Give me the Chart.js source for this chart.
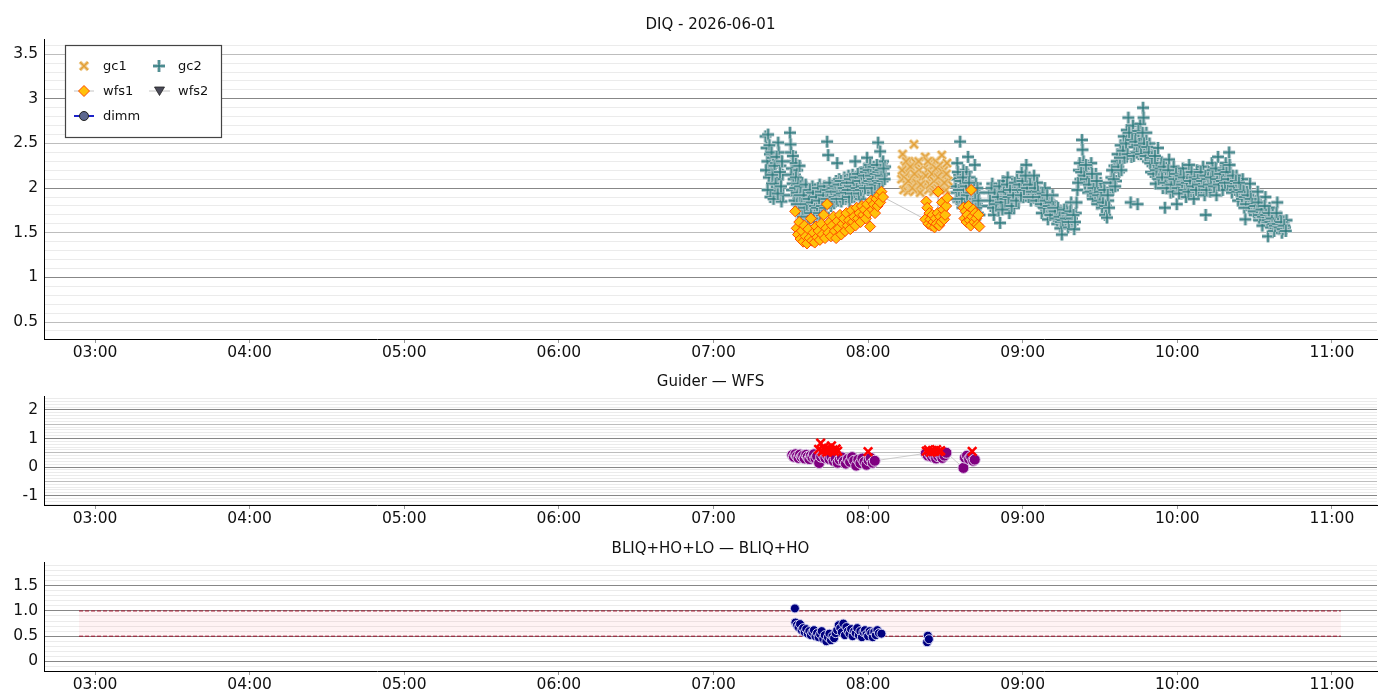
<!DOCTYPE html>
<html>
<head>
<meta charset="utf-8">
<script src="https://cdn.jsdelivr.net/npm/chart.js@4.4.1/dist/chart.umd.min.js"></script>
<style>
html, body { margin: 0; padding: 0; background: #fff; }
body { width: 1400px; height: 700px; position: relative; overflow: hidden; font-family: "DejaVu Sans", sans-serif; }
.box { position: absolute; left: 0; width: 1400px; }
.box canvas { display: block; }
.ttl { position: absolute; left: 44px; width: 1333px; text-align: center; font-size: 15px; line-height: 18px; color: #111; }
</style>
</head>
<body>
<div class="box" style="top:0px;height:365px"><canvas id="diq" width="1400" height="365"></canvas></div>
<div class="box" style="top:365px;height:165px"><canvas id="gw" width="1400" height="165"></canvas></div>
<div class="box" style="top:530px;height:170px"><canvas id="bliq" width="1400" height="170"></canvas></div>
<div class="ttl" style="top:15px">DIQ - 2026-06-01</div>
<div class="ttl" style="top:372px">Guider — WFS</div>
<div class="ttl" style="top:539px">BLIQ+HO+LO — BLIQ+HO</div>
<script>
// time axis is minutes after 00:00 UT
const xTickVals = [180, 240, 300, 360, 420, 480, 540, 600, 660];
const xTickLabels = ['03:00', '04:00', '05:00', '06:00', '07:00', '08:00', '09:00', '10:00', '11:00'];
const xRange = [160.2, 677.5];

const diqRange = [0.31, 3.67];
const diqTicks = [0.5, 1, 1.5, 2, 2.5, 3, 3.5];
const diqLabels = ['0.5', '1', '1.5', '2', '2.5', '3', '3.5'];

const gwRange = [-1.33, 2.49];
const gwTicks = [-1, 0, 1, 2];
const gwLabels = ['-1', '0', '1', '2'];

const bliqRange = [-0.19, 1.97];
const bliqTicks = [0, 0.5, 1, 1.5];
const bliqLabels = ['0', '0.5', '1.0', '1.5'];

const legendNames = ['gc1', 'gc2', 'wfs1', 'wfs2', 'dimm'];

// [minute, value]
const gc1 = [
  [493.0, 2.10], [493.4, 2.38], [493.8, 1.98], [494.2, 2.25], [494.6, 2.05], [495.0, 2.18], [495.4, 1.96],
  [495.8, 2.30], [496.2, 2.12], [496.6, 2.00], [497.0, 2.22], [497.4, 2.08], [497.8, 2.49], [498.2, 1.97],
  [498.6, 2.28], [499.0, 2.15], [499.4, 2.02], [499.8, 2.20], [500.2, 1.95], [500.6, 2.12], [502.2, 2.35],
  [502.6, 2.05], [503.0, 2.20], [503.4, 1.98], [503.8, 2.28], [504.2, 2.10], [504.6, 2.02], [505.0, 2.24],
  [505.4, 1.96], [505.8, 2.15], [506.2, 2.30], [506.6, 2.06], [507.0, 2.18], [507.4, 1.99], [507.8, 2.26],
  [508.2, 2.10], [508.6, 2.37], [509.0, 2.03], [509.4, 2.20], [509.8, 2.12], [510.2, 1.98], [510.6, 2.28],
  [511.0, 2.08], [493.2, 2.20], [494.0, 2.12], [494.8, 2.30], [495.6, 2.08], [496.4, 2.24], [497.2, 2.00],
  [498.0, 2.16], [498.8, 2.06], [499.6, 2.30], [500.4, 2.04], [502.4, 2.14], [503.2, 2.30], [504.0, 2.04],
  [504.8, 2.16], [505.6, 2.08], [506.4, 2.22], [507.2, 2.12], [508.0, 2.02], [508.8, 2.18], [509.6, 2.06],
  [510.4, 2.16]
];

const gc2 = [
  // 07:20 - 08:07
  [440.2, 2.58], [440.6, 2.45], [440.9, 2.30], [441.2, 2.60], [441.5, 2.12], [441.9, 2.38], [442.3, 2.22],
  [442.7, 2.05], [443.1, 2.34], [443.5, 2.18], [443.9, 1.96], [444.3, 2.28], [444.7, 2.10], [445.1, 2.51],
  [445.3, 2.40], [445.6, 2.00], [446.0, 2.25], [446.4, 1.85], [446.8, 2.15], [447.0, 1.92],
  [449.7, 2.62], [449.9, 2.49], [450.1, 2.40], [450.4, 2.22], [450.7, 2.05], [451.0, 2.30], [451.3, 1.92],
  [451.6, 2.15], [451.9, 2.28], [452.2, 1.98], [452.5, 2.20], [452.8, 1.88], [453.1, 2.08], [453.4, 2.25],
  [453.7, 1.80], [454.0, 1.95], [454.4, 2.06], [454.8, 1.72], [455.2, 1.88], [455.6, 1.98], [456.0, 1.70],
  [456.4, 1.84], [456.8, 1.95], [457.2, 1.66], [457.6, 1.78], [458.0, 1.90], [458.4, 2.02], [458.8, 1.74],
  [459.2, 1.86], [459.6, 1.97], [460.0, 1.70], [460.4, 1.82], [460.8, 1.93], [461.2, 2.04], [461.6, 1.76],
  [462.0, 1.88], [462.4, 1.99], [462.8, 1.72], [463.2, 1.84], [463.6, 1.95], [464.1, 2.52], [464.5, 2.37],
  [464.8, 1.90], [465.2, 2.00], [465.6, 1.80], [466.0, 1.92], [466.4, 2.04], [466.8, 1.83], [467.2, 1.95],
  [467.6, 2.08], [468.0, 2.28], [468.4, 1.86], [468.8, 2.10], [469.2, 1.97], [469.6, 1.85], [470.0, 2.06],
  [470.4, 1.98], [470.8, 2.12], [471.2, 1.88], [471.6, 2.02], [472.0, 1.93], [472.4, 2.14], [472.8, 1.85],
  [473.2, 2.00], [473.6, 1.90], [474.0, 2.15], [474.4, 1.96], [475.0, 2.30], [475.4, 2.05], [475.8, 1.92],
  [476.2, 2.10], [476.6, 2.00], [477.0, 1.88], [477.4, 2.18], [477.8, 2.04], [478.2, 1.95], [478.6, 2.22],
  [479.0, 2.08], [479.6, 2.34], [480.0, 1.98], [480.4, 2.14], [480.8, 2.26], [481.2, 2.02], [481.6, 1.95],
  [482.0, 2.18], [482.4, 2.08], [482.8, 2.22], [483.2, 2.12], [483.6, 2.02], [483.9, 2.51], [484.2, 2.20],
  [484.7, 2.41], [485.0, 2.10], [485.4, 2.28], [485.8, 2.30], [486.2, 2.16], [486.6, 2.24],
  [440.4, 2.20], [441.0, 1.98], [441.7, 2.48], [442.1, 1.90], [442.5, 2.40], [442.9, 2.15], [443.3, 1.88],
  [443.7, 2.25], [444.1, 2.05], [444.5, 2.35], [444.9, 1.94], [445.8, 2.18], [446.2, 2.02], [446.6, 2.30],
  [450.2, 2.15], [450.5, 1.98], [450.8, 2.36], [451.1, 2.10], [451.4, 1.86], [451.7, 2.00], [452.0, 2.12],
  [452.3, 1.82], [452.6, 1.95], [452.9, 2.05], [453.2, 1.76], [453.5, 1.92], [453.8, 2.02], [454.2, 1.82],
  [454.6, 1.68], [455.0, 1.92], [455.4, 1.78], [455.8, 2.04], [456.2, 1.82], [456.6, 1.68], [457.0, 1.88],
  [457.4, 1.98], [457.8, 1.72], [458.2, 1.84], [458.6, 1.95], [459.0, 1.66], [459.4, 1.80], [459.8, 1.90],
  [460.2, 1.78], [460.6, 2.00], [461.0, 1.86], [461.4, 1.72], [461.8, 1.96], [462.2, 1.80], [462.6, 1.92],
  [463.0, 2.02], [463.4, 1.78], [463.8, 1.88], [464.3, 1.98], [464.6, 1.84], [465.0, 2.06], [465.4, 1.88],
  [465.8, 1.96], [466.2, 1.85], [466.6, 2.00], [467.0, 1.90], [467.4, 2.02], [467.8, 1.88], [468.2, 1.96],
  [468.6, 2.04], [469.0, 1.92], [469.4, 2.08], [469.8, 1.94], [470.2, 1.88], [470.6, 2.00], [471.0, 2.08],
  [471.4, 1.95], [471.8, 2.06], [472.2, 1.98], [472.6, 1.90], [473.0, 2.10], [473.4, 2.02], [473.8, 1.94],
  [474.2, 2.06], [474.6, 1.98], [475.2, 2.12], [475.6, 2.00], [476.0, 2.16], [476.4, 1.94], [476.8, 2.08],
  [477.2, 1.98], [477.6, 2.12], [478.0, 2.02], [478.4, 2.14], [478.8, 2.00], [479.2, 2.18], [479.8, 2.06],
  [480.2, 2.20], [480.6, 2.08], [481.0, 2.14], [481.4, 2.00], [481.8, 2.10], [482.2, 2.24], [482.6, 2.04],
  [483.0, 2.16], [483.4, 2.26], [483.8, 2.08], [484.0, 2.18], [484.4, 2.06], [484.8, 2.20], [485.2, 2.14],
  [485.6, 2.08], [486.0, 2.22], [486.4, 2.10],
  // 08:34 - 08:44
  [513.8, 2.10], [514.2, 1.95], [514.6, 2.28], [515.0, 1.85], [515.4, 2.15], [515.7, 2.52], [516.2, 2.00],
  [516.6, 1.78], [517.0, 2.20], [517.4, 1.92], [517.8, 2.08], [518.2, 2.18], [518.8, 2.35], [519.0, 1.98],
  [519.4, 2.12], [519.8, 1.85], [520.2, 1.76], [520.6, 2.02], [521.0, 1.90], [521.4, 2.26], [521.8, 2.05],
  [522.2, 1.82], [522.6, 1.72], [523.0, 1.95], [523.4, 1.80],
  [514.0, 2.02], [514.4, 1.88], [514.8, 2.18], [515.2, 1.98], [515.9, 2.08], [516.4, 1.88], [516.8, 2.12],
  [517.2, 1.98], [517.6, 1.80], [518.0, 2.02], [518.4, 1.92], [519.2, 2.06], [519.6, 1.76], [520.0, 1.95],
  [520.4, 1.84], [520.8, 1.72], [521.2, 1.98], [521.6, 1.88], [522.0, 1.78], [522.4, 2.00], [522.8, 1.86],
  [523.2, 1.70],
  // 08:47 - 10:42
  [527.0, 1.95], [527.6, 1.80], [528.2, 2.05], [528.8, 1.70], [529.4, 1.88], [530.0, 1.98], [530.6, 1.75],
  [531.2, 1.61], [531.8, 1.92], [532.4, 2.08], [533.0, 1.82], [533.6, 1.95], [534.2, 2.12], [534.8, 1.72],
  [535.4, 1.88], [536.0, 2.02], [536.6, 1.78], [537.2, 1.94], [537.8, 2.10], [538.4, 1.85], [539.0, 2.00],
  [539.6, 2.18], [540.2, 1.90], [540.8, 2.05], [541.4, 2.26], [542.0, 1.95], [542.6, 2.12], [543.2, 1.86],
  [543.8, 2.02], [544.4, 2.14], [545.0, 1.92], [545.6, 2.06], [546.2, 1.84], [546.8, 1.96], [547.4, 1.72],
  [548.0, 1.88], [548.6, 2.00], [549.2, 1.76], [549.8, 1.65], [550.4, 1.86], [551.0, 1.74], [551.6, 1.92],
  [552.2, 1.68], [552.8, 1.80], [553.4, 1.60], [554.0, 1.74], [554.6, 1.55], [555.2, 1.48], [555.8, 1.70],
  [556.4, 1.62], [557.0, 1.78], [557.6, 1.56], [558.2, 1.68], [558.8, 1.84], [559.4, 1.60], [560.0, 1.54],
  [560.6, 1.72], [561.2, 1.98], [561.8, 2.20], [562.4, 2.10], [563.0, 2.54], [563.2, 2.43], [563.6, 2.30],
  [564.2, 2.05], [564.8, 2.22], [565.4, 1.95], [566.0, 2.12], [566.6, 2.28], [567.2, 1.88], [567.8, 2.05],
  [568.4, 2.16], [569.0, 1.82], [569.6, 1.98], [570.2, 2.06], [570.8, 1.78], [571.4, 1.92], [572.0, 1.70],
  [572.7, 1.67], [573.2, 1.86], [573.8, 2.00], [574.4, 2.12], [575.0, 1.98], [575.6, 2.25], [576.2, 2.08],
  [576.8, 2.38], [577.4, 2.18], [578.0, 2.48], [578.6, 2.30], [579.2, 2.58], [579.8, 2.40], [580.4, 2.65],
  [581.0, 2.79], [581.6, 2.52], [581.9, 1.84], [582.2, 2.35], [582.8, 2.70], [583.4, 2.46], [584.0, 2.60],
  [584.6, 1.82], [585.0, 2.38], [585.6, 2.72], [586.2, 2.55], [586.7, 2.90], [586.9, 2.79], [587.4, 2.42],
  [588.0, 2.62], [588.6, 2.30], [589.2, 2.50], [589.8, 2.18], [590.4, 2.40], [591.0, 2.26], [591.6, 2.05],
  [592.2, 2.34], [592.5, 2.45], [593.2, 2.15], [593.8, 2.28], [594.4, 2.00], [595.2, 1.78], [595.6, 2.18],
  [596.2, 2.08], [596.8, 2.32], [597.4, 1.95], [598.0, 2.14], [598.6, 2.24], [599.2, 2.02], [599.8, 1.82],
  [600.4, 2.16], [601.0, 2.08], [601.6, 1.94], [602.2, 2.22], [602.8, 2.04], [603.4, 1.90], [604.0, 2.14],
  [604.6, 2.26], [605.2, 1.98], [605.8, 2.10], [606.4, 1.88], [607.0, 2.06], [607.6, 2.20], [608.2, 1.96],
  [608.8, 2.12], [609.4, 2.00], [610.0, 2.24], [610.6, 1.92], [611.0, 1.70], [611.6, 2.08], [612.2, 2.18],
  [612.8, 1.96], [613.4, 2.28], [614.0, 2.06], [614.6, 2.16], [615.2, 1.92], [615.8, 2.35], [616.4, 2.10],
  [617.0, 2.22], [617.6, 1.98], [618.2, 2.14], [618.8, 2.28], [619.4, 2.04], [620.1, 2.40], [620.6, 2.18],
  [621.2, 1.95], [621.8, 2.10], [622.4, 1.98], [623.0, 2.14], [623.6, 1.86], [624.2, 2.02], [624.8, 1.92],
  [625.4, 2.10], [626.0, 1.78], [626.4, 1.65], [627.0, 1.96], [627.6, 1.84], [628.2, 2.05], [628.8, 1.76],
  [629.4, 1.90], [630.0, 1.70], [630.6, 1.86], [631.2, 1.96], [631.8, 1.64], [632.4, 1.80], [633.0, 1.58],
  [633.6, 1.74], [634.2, 1.90], [634.8, 1.62], [635.2, 1.46], [635.8, 1.78], [636.4, 1.56], [637.0, 1.70],
  [637.6, 1.52], [638.2, 1.66], [638.8, 1.84], [639.4, 1.54], [640.0, 1.68], [640.6, 1.50], [641.2, 1.62],
  [641.8, 1.56], [642.4, 1.64],
  [527.3, 1.86], [527.9, 2.00], [528.5, 1.78], [529.1, 1.95], [529.7, 1.82], [530.3, 1.90], [530.9, 2.02],
  [531.5, 1.84], [532.1, 1.76], [532.7, 1.96], [533.3, 1.88], [533.9, 2.04], [534.5, 1.90], [535.1, 1.98],
  [535.7, 1.80], [536.3, 1.92], [536.9, 2.06], [537.5, 1.86], [538.1, 1.98], [538.7, 2.04], [539.3, 1.92],
  [539.9, 2.08], [540.5, 1.98], [541.1, 2.14], [541.7, 2.00], [542.3, 1.90], [542.9, 2.04], [543.5, 1.96],
  [544.1, 1.90], [544.7, 2.00], [545.3, 1.86], [545.9, 1.96], [546.5, 1.90], [547.1, 1.82], [547.7, 1.94],
  [548.3, 1.78], [548.9, 1.86], [549.5, 1.92], [550.1, 1.80], [550.7, 1.70], [551.3, 1.84], [551.9, 1.78],
  [552.5, 1.74], [553.1, 1.66], [553.7, 1.78], [554.3, 1.68], [554.9, 1.62], [555.5, 1.64], [556.1, 1.76],
  [556.7, 1.66], [557.3, 1.72], [557.9, 1.62], [558.5, 1.74], [559.1, 1.66], [559.7, 1.70], [560.3, 1.62],
  [560.9, 1.84], [561.5, 2.06], [562.1, 2.28], [562.7, 2.18], [563.9, 2.14], [564.5, 2.26], [565.1, 2.10],
  [565.7, 2.04], [566.3, 1.96], [566.9, 2.16], [567.5, 2.00], [568.1, 1.94], [568.7, 2.08], [569.3, 1.92],
  [569.9, 1.86], [570.5, 1.96], [571.1, 1.84], [571.7, 1.98], [572.3, 1.80], [573.0, 1.92], [573.5, 1.78],
  [574.1, 2.06], [574.7, 2.20], [575.3, 2.10], [575.9, 2.02], [576.5, 2.30], [577.1, 2.24], [577.7, 2.34],
  [578.3, 2.20], [578.9, 2.42], [579.5, 2.34], [580.1, 2.50], [580.7, 2.38], [581.3, 2.62], [582.5, 2.54],
  [583.1, 2.36], [583.7, 2.52], [584.3, 2.40], [584.9, 2.64], [585.3, 2.48], [585.9, 2.38], [586.5, 2.62],
  [587.1, 2.50], [587.7, 2.36], [588.3, 2.46], [588.9, 2.40], [589.5, 2.28], [590.1, 2.34], [590.7, 2.16],
  [591.3, 2.36], [591.9, 2.20], [592.8, 2.10], [593.5, 2.22], [594.1, 2.12], [594.7, 2.24], [595.4, 2.06],
  [595.9, 2.00], [596.5, 2.20], [597.1, 2.12], [597.7, 2.04], [598.3, 1.96], [598.9, 2.10], [599.5, 2.16],
  [600.1, 2.00], [600.7, 1.94], [601.3, 2.14], [601.9, 2.04], [602.5, 2.12], [603.1, 1.98], [603.7, 2.06],
  [604.3, 1.96], [604.9, 2.08], [605.5, 2.18], [606.1, 2.02], [606.7, 2.12], [607.3, 1.98], [607.9, 2.10],
  [608.5, 2.04], [609.1, 2.18], [609.7, 2.08], [610.3, 2.02], [610.9, 2.14], [611.3, 1.98], [611.9, 2.10],
  [612.5, 2.04], [613.1, 2.12], [613.7, 2.20], [614.3, 2.02], [614.9, 2.22], [615.5, 2.10], [616.1, 2.04],
  [616.7, 2.16], [617.3, 2.08], [617.9, 2.20], [618.5, 2.06], [619.1, 2.18], [619.7, 2.10], [620.3, 2.26],
  [620.9, 2.06], [621.5, 2.14], [622.1, 2.02], [622.7, 2.08], [623.3, 1.96], [623.9, 2.06], [624.5, 1.98],
  [625.1, 1.88], [625.7, 1.96], [626.2, 1.90], [626.7, 1.82], [627.3, 1.92], [627.9, 1.78], [628.5, 1.88],
  [629.1, 1.82], [629.7, 1.74], [630.3, 1.80], [630.9, 1.74], [631.5, 1.84], [632.1, 1.70], [632.7, 1.76],
  [633.3, 1.68], [633.9, 1.80], [634.5, 1.70], [635.0, 1.64], [635.5, 1.72], [636.1, 1.62], [636.7, 1.66],
  [637.3, 1.60], [637.9, 1.58], [638.5, 1.72], [639.1, 1.60], [639.7, 1.56], [640.3, 1.62], [640.9, 1.54],
  [641.5, 1.58], [642.1, 1.52]
];

const wfs1 = [
  [451.7, 1.74], [452.3, 1.55], [452.8, 1.48], [453.3, 1.62], [453.8, 1.43], [454.3, 1.52], [454.8, 1.40],
  [455.3, 1.58], [455.8, 1.46], [456.3, 1.38], [456.8, 1.54], [457.3, 1.44], [457.8, 1.66], [458.3, 1.41],
  [458.8, 1.50], [459.3, 1.39], [459.8, 1.57], [460.3, 1.45], [460.8, 1.52], [461.3, 1.42], [461.8, 1.60],
  [462.3, 1.48], [462.8, 1.70], [463.3, 1.44], [463.8, 1.55], [464.1, 1.82], [464.6, 1.50], [465.1, 1.62],
  [465.6, 1.46], [466.1, 1.58], [466.6, 1.68], [467.1, 1.52], [467.6, 1.44], [468.1, 1.63], [468.6, 1.55],
  [469.1, 1.70], [469.6, 1.48], [470.1, 1.60], [470.6, 1.66], [471.1, 1.52], [471.6, 1.72], [472.1, 1.58],
  [472.6, 1.64], [473.1, 1.54], [473.6, 1.75], [474.1, 1.62], [474.6, 1.68], [475.1, 1.58], [475.6, 1.78],
  [476.1, 1.66], [476.6, 1.72], [477.1, 1.62], [477.6, 1.80], [478.1, 1.70], [478.6, 1.76], [479.1, 1.66],
  [479.6, 1.82], [480.1, 1.72], [480.8, 1.57], [481.2, 1.86], [481.7, 1.76], [482.2, 1.82], [482.7, 1.72],
  [483.2, 1.88], [483.7, 1.80], [484.2, 1.92], [484.7, 1.84], [485.2, 1.96], [485.8, 1.90],
  [502.2, 1.65], [502.6, 1.85], [503.0, 1.78], [503.4, 1.60], [503.8, 1.72], [504.2, 1.65], [504.6, 1.58],
  [505.0, 1.70], [505.4, 1.62], [505.8, 1.56], [506.2, 1.66], [506.6, 1.60], [507.0, 1.72], [507.2, 1.96],
  [507.6, 1.58], [508.0, 1.68], [508.4, 1.62], [508.7, 1.84], [509.1, 1.76], [509.5, 1.65], [509.9, 1.70],
  [510.3, 1.80], [510.7, 1.89],
  [517.0, 1.78], [517.4, 1.66], [517.8, 1.74], [518.2, 1.62], [518.6, 1.70], [519.0, 1.80], [519.4, 1.64],
  [519.8, 1.58], [520.0, 1.98], [520.4, 1.68], [520.8, 1.76], [521.2, 1.62], [521.6, 1.72], [522.0, 1.66],
  [522.4, 1.59], [522.8, 1.70], [523.2, 1.57]
];

const guiderWfs = [
  [450.6, 0.42], [451.2, 0.36], [451.8, 0.45], [452.4, 0.38], [453.0, 0.32], [453.6, 0.44], [454.2, 0.35],
  [454.8, 0.40], [455.4, 0.30], [456.0, 0.43], [456.6, 0.36], [457.2, 0.28], [457.8, 0.40], [458.4, 0.34],
  [459.0, 0.45], [459.6, 0.30], [460.2, 0.38], [461.0, 0.14], [461.8, 0.36], [462.6, 0.44], [463.4, 0.32],
  [464.2, 0.40], [465.0, 0.28], [465.8, 0.36], [466.6, 0.22], [467.4, 0.30], [468.2, 0.15], [469.0, 0.26],
  [469.8, 0.34], [470.6, 0.20], [471.4, 0.12], [472.2, 0.28], [473.0, 0.18], [473.8, 0.35], [474.6, 0.22],
  [475.4, 0.05], [476.2, 0.26], [477.0, 0.14], [477.8, 0.30], [478.6, 0.18], [479.4, 0.08], [480.2, 0.24],
  [481.0, 0.32], [481.8, 0.15], [482.6, 0.22],
  [502.4, 0.48], [503.2, 0.40], [504.0, 0.46], [504.8, 0.36], [505.6, 0.42], [506.4, 0.30], [507.2, 0.38],
  [508.0, 0.44], [508.8, 0.32], [509.6, 0.40], [510.4, 0.50],
  [517.0, -0.03], [517.6, 0.33], [518.4, 0.40], [519.2, 0.28], [520.0, 0.36], [520.8, 0.22], [521.4, 0.26]
];

const guiderOnly = [
  [460.8, 0.62], [461.6, 0.84], [462.2, 0.55], [462.8, 0.68], [463.4, 0.60], [464.0, 0.52], [464.6, 0.66],
  [465.2, 0.58], [465.8, 0.74], [466.4, 0.60], [467.0, 0.54], [467.6, 0.64], [468.2, 0.56], [480.0, 0.54],
  [502.6, 0.56], [503.4, 0.60], [504.2, 0.52], [505.0, 0.58], [505.8, 0.55], [506.6, 0.61], [507.4, 0.54],
  [508.2, 0.57], [520.4, 0.55]
];

const bliq = [
  [451.6, 1.05], [451.8, 0.77], [452.4, 0.72], [453.0, 0.68], [453.6, 0.74], [454.2, 0.62], [454.8, 0.66],
  [455.4, 0.58], [456.0, 0.64], [456.6, 0.55], [457.2, 0.60], [457.8, 0.52], [458.4, 0.58], [459.0, 0.62],
  [459.6, 0.50], [460.2, 0.56], [460.8, 0.48], [461.4, 0.54], [462.0, 0.60], [462.6, 0.45], [463.2, 0.52],
  [463.8, 0.40], [464.4, 0.48], [465.0, 0.55], [465.6, 0.42], [466.2, 0.50], [466.8, 0.46], [467.4, 0.56],
  [468.0, 0.62], [468.6, 0.72], [469.2, 0.66], [469.8, 0.58], [470.4, 0.75], [471.0, 0.52], [471.6, 0.68],
  [472.2, 0.60], [472.8, 0.55], [473.4, 0.64], [474.0, 0.50], [474.6, 0.60], [475.2, 0.56], [475.8, 0.66],
  [476.4, 0.52], [477.0, 0.60], [477.6, 0.48], [478.2, 0.58], [478.8, 0.62], [479.4, 0.54], [480.0, 0.50],
  [480.6, 0.60], [481.2, 0.56], [481.8, 0.48], [482.4, 0.58], [483.0, 0.52], [483.6, 0.62], [484.2, 0.56],
  [485.2, 0.55],
  [502.9, 0.38], [503.2, 0.51], [503.6, 0.44]
];

// target band for BLIQ+HO+LO - BLIQ+HO
const bandT = [173.8, 663.5];
const bandHi = [1.0, 1.0];
const bandLo = [0.5, 0.5];

function pts(arr) {
  return arr.map(p => ({ x: p[0], y: p[1] }));
}

// little marker images: coloured stroke over a pale halo
function strokeMarker(kind, halo, color, inner) {
  const c = document.createElement('canvas');
  c.width = 14; c.height = 14;
  const g = c.getContext('2d');
  function path() {
    g.beginPath();
    if (kind == 'plus') {
      g.moveTo(1, 7); g.lineTo(13, 7);
      g.moveTo(7, 1); g.lineTo(7, 13);
    } else {
      g.moveTo(3, 3); g.lineTo(11, 11);
      g.moveTo(11, 3); g.lineTo(3, 11);
    }
  }
  path(); g.strokeStyle = halo; g.lineWidth = 3.8; g.stroke();
  path(); g.strokeStyle = color; g.lineWidth = inner; g.stroke();
  return c;
}
const plusMark = strokeMarker('plus', 'rgb(178,199,204)', '#2a7a7c', 1.4);
const xMark = strokeMarker('x', 'rgb(238,206,150)', '#e39f35', 1.6);

Chart.defaults.font.family = "'DejaVu Sans', sans-serif";
Chart.defaults.font.size = 15.5;
Chart.defaults.color = '#111';

function onStep(v, step) {
  const r = v / step;
  return Math.abs(r - Math.round(r)) < 1e-6;
}

function makeOptions(range, ticks, labels, darkStep, midStep, padTop, xHeight) {
  return {
    responsive: false,
    animation: false,
    layout: { padding: { top: padTop, right: 23, left: 0, bottom: 0 } },
    plugins: { legend: { display: false }, title: { display: false }, tooltip: { enabled: false } },
    scales: {
      x: {
        type: 'linear',
        min: xRange[0],
        max: xRange[1],
        afterBuildTicks: s => { s.ticks = xTickVals.map(v => ({ value: v })); },
        afterFit: s => { s.height = xHeight; },
        ticks: {
          autoSkip: false,
          maxRotation: 0,
          padding: 1,
          callback: v => xTickLabels[xTickVals.indexOf(v)]
        },
        grid: { drawOnChartArea: false, drawTicks: true, tickLength: 4, tickColor: '#999' },
        border: { display: true, color: '#000', width: 1 }
      },
      y: {
        type: 'linear',
        min: range[0],
        max: range[1],
        afterBuildTicks: s => {
          const list = [];
          for (let v = Math.ceil(range[0] * 10); v <= Math.floor(range[1] * 10); v++) {
            list.push({ value: v / 10 });
          }
          s.ticks = list;
        },
        afterFit: s => { s.width = 44; },
        ticks: {
          autoSkip: false,
          padding: 6,
          callback: v => {
            const i = ticks.findIndex(t => Math.abs(t - v) < 1e-6);
            return i >= 0 ? labels[i] : '';
          }
        },
        grid: {
          drawTicks: false,
          lineWidth: 1,
          color: c => {
            if (!c.tick) return '#ebebeb';
            const v = c.tick.value;
            if (onStep(v, darkStep)) return '#878787';
            if (midStep && onStep(v, midStep)) return '#bdbdbd';
            return '#ebebeb';
          }
        },
        border: { display: true, color: '#000', width: 1 }
      }
    }
  };
}

const legendPlugin = {
  id: 'diqLegend',
  afterDraw(chart) {
    const ctx = chart.ctx;
    const x0 = chart.chartArea.left + 21;
    const y0 = chart.chartArea.top + 6;
    ctx.save();
    ctx.fillStyle = '#fff';
    ctx.fillRect(x0, y0, 156, 92);
    ctx.strokeStyle = '#444';
    ctx.lineWidth = 1.2;
    ctx.strokeRect(x0 + 0.5, y0 + 0.5, 156, 92);

    const rows = [y0 + 21, y0 + 46, y0 + 71];
    // gc1, gc2
    ctx.drawImage(xMark, x0 + 19 - 7, rows[0] - 7);
    ctx.drawImage(plusMark, x0 + 94 - 7, rows[0] - 7);
    // wfs1
    ctx.strokeStyle = '#b5b5b5'; ctx.lineWidth = 0.8;
    ctx.beginPath(); ctx.moveTo(x0 + 9, rows[1]); ctx.lineTo(x0 + 29, rows[1]); ctx.stroke();
    ctx.beginPath();
    ctx.moveTo(x0 + 19, rows[1] - 5.5); ctx.lineTo(x0 + 24.5, rows[1]);
    ctx.lineTo(x0 + 19, rows[1] + 5.5); ctx.lineTo(x0 + 13.5, rows[1]); ctx.closePath();
    ctx.fillStyle = '#ffc10a'; ctx.fill();
    ctx.strokeStyle = '#ff4a00'; ctx.lineWidth = 1; ctx.stroke();
    // wfs2
    ctx.strokeStyle = '#b5b5b5'; ctx.lineWidth = 0.8;
    ctx.beginPath(); ctx.moveTo(x0 + 84, rows[1]); ctx.lineTo(x0 + 105, rows[1]); ctx.stroke();
    ctx.beginPath();
    ctx.moveTo(x0 + 89.5, rows[1] - 4); ctx.lineTo(x0 + 99.5, rows[1] - 4); ctx.lineTo(x0 + 94.5, rows[1] + 4.5);
    ctx.closePath();
    ctx.fillStyle = '#4a4a58'; ctx.fill();
    ctx.strokeStyle = '#222'; ctx.lineWidth = 0.8; ctx.stroke();
    // dimm
    ctx.strokeStyle = '#1c22c8'; ctx.lineWidth = 2;
    ctx.beginPath(); ctx.moveTo(x0 + 9, rows[2]); ctx.lineTo(x0 + 29, rows[2]); ctx.stroke();
    ctx.beginPath(); ctx.arc(x0 + 19, rows[2], 4.5, 0, Math.PI * 2);
    ctx.fillStyle = '#5d6890'; ctx.fill();
    ctx.strokeStyle = '#222'; ctx.lineWidth = 1; ctx.stroke();

    ctx.font = "13px 'DejaVu Sans', sans-serif";
    ctx.fillStyle = '#111';
    ctx.textBaseline = 'middle';
    ctx.textAlign = 'left';
    ctx.fillText(legendNames[0], x0 + 38, rows[0] + 1);
    ctx.fillText(legendNames[1], x0 + 113, rows[0] + 1);
    ctx.fillText(legendNames[2], x0 + 38, rows[1] + 1);
    ctx.fillText(legendNames[3], x0 + 113, rows[1] + 1);
    ctx.fillText(legendNames[4], x0 + 38, rows[2] + 1);
    ctx.restore();
  }
};

new Chart(document.getElementById('diq'), {
  type: 'scatter',
  data: {
    datasets: [
      {
        label: 'wfs1', data: pts(wfs1), order: 0,
        showLine: true, borderColor: '#b8b8b8', borderWidth: 0.8,
        pointStyle: 'rectRot', pointRadius: 5.5,
        pointBackgroundColor: '#ffc10a', pointBorderColor: '#ff4a00', pointBorderWidth: 1
      },
      { label: 'gc1', data: pts(gc1), order: 1, pointStyle: xMark, pointRadius: 5 },
      { label: 'gc2', data: pts(gc2), order: 2, pointStyle: plusMark, pointRadius: 5 }
    ]
  },
  options: makeOptions(diqRange, diqTicks, diqLabels, 1, 0.5, 39, 26),
  plugins: [legendPlugin]
});

new Chart(document.getElementById('gw'), {
  type: 'scatter',
  data: {
    datasets: [
      {
        label: 'guider', data: pts(guiderOnly), order: 0,
        pointStyle: 'crossRot', pointRadius: 6, pointBorderColor: '#ff0000', pointBorderWidth: 2.6
      },
      {
        label: 'guider-wfs', data: pts(guiderWfs), order: 1,
        showLine: true, borderColor: '#c0c0c0', borderWidth: 0.8,
        pointStyle: 'circle', pointRadius: 5.5,
        pointBackgroundColor: '#800080', pointBorderColor: '#dcc8e6', pointBorderWidth: 1
      }
    ]
  },
  options: makeOptions(gwRange, gwTicks, gwLabels, 1, 0.5, 31, 25)
});

new Chart(document.getElementById('bliq'), {
  type: 'scatter',
  data: {
    datasets: [
      {
        label: 'bliq', data: pts(bliq), order: 0,
        pointStyle: 'circle', pointRadius: 4.5,
        pointBackgroundColor: '#000080', pointBorderColor: '#cfd0f0', pointBorderWidth: 1
      },
      {
        label: 'hi', data: bandT.map((t, i) => ({ x: t, y: bandHi[i] })), order: 1,
        showLine: true, pointRadius: 0, borderColor: '#a0102a', borderWidth: 1, borderDash: [4, 2]
      },
      {
        label: 'lo', data: bandT.map((t, i) => ({ x: t, y: bandLo[i] })), order: 2,
        showLine: true, pointRadius: 0, borderColor: '#a0102a', borderWidth: 1, borderDash: [4, 2],
        fill: '-1', backgroundColor: 'rgba(255,120,130,0.09)'
      }
    ]
  },
  options: makeOptions(bliqRange, bliqTicks, bliqLabels, 0.5, 0, 32, 29)
});
</script>
</body>
</html>
